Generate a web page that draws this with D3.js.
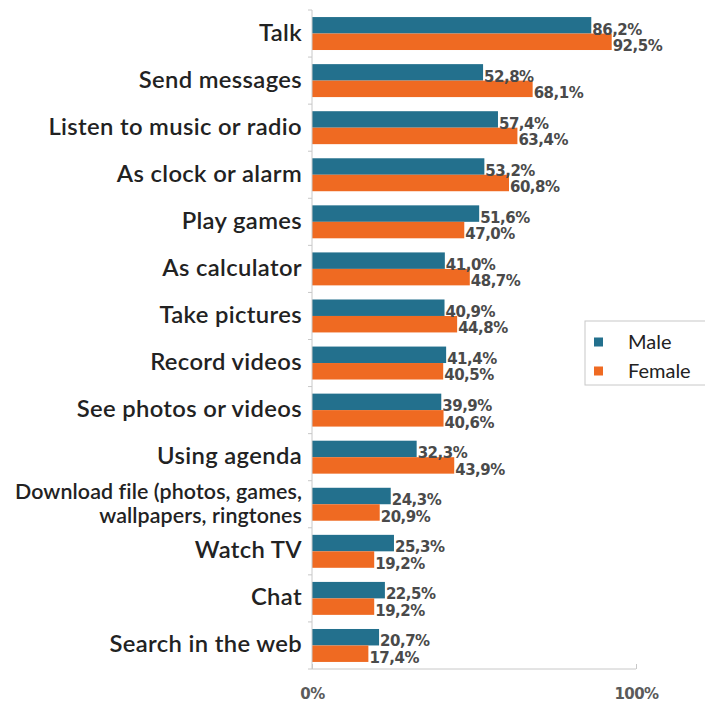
<!DOCTYPE html>
<html>
<head>
<meta charset="utf-8">
<script src="https://cdn.jsdelivr.net/npm/d3@7"></script>
<style>
  html, body { margin: 0; padding: 0; background: #ffffff; }
  svg { display: block; }
</style>
</head>
<body>
<svg id="chart" width="705" height="702"></svg>
<script>
// Mobile phone uses by gender (share of respondents, %)
const categories = [
  ["Talk"],
  ["Send messages"],
  ["Listen to music or radio"],
  ["As clock or alarm"],
  ["Play games"],
  ["As calculator"],
  ["Take pictures"],
  ["Record videos"],
  ["See photos or videos"],
  ["Using agenda"],
  ["Download file (photos, games,", "wallpapers, ringtones"],
  ["Watch TV"],
  ["Chat"],
  ["Search in the web"]
];
const maleValues   = [86.2, 52.8, 57.4, 53.2, 51.6, 41.0, 40.9, 41.4, 39.9, 32.3, 24.3, 25.3, 22.5, 20.7];
const femaleValues = [92.5, 68.1, 63.4, 60.8, 47.0, 48.7, 44.8, 40.5, 40.6, 43.9, 20.9, 19.2, 19.2, 17.4];
const seriesNames  = ["Male", "Female"];
const xTicks       = [0, 100];

const colors = { Male: "#23708d", Female: "#ef6a22" };
const fmt = v => v.toFixed(1).replace(".", ",") + "%";

const catFont = "Lato, 'Open Sans', sans-serif";
const numFont = "'DejaVu Sans', Verdana, sans-serif";

const svg = d3.select("#chart");
const plotL = 312, plotR = 636, plotT = 10, plotB = 669;

const x = d3.scaleLinear().domain([0, 100]).range([plotL, plotR]);
const y = d3.scaleBand().domain(d3.range(categories.length)).range([plotT, plotB]).paddingInner(0.3).paddingOuter(0.15);
const ySub = d3.scaleBand().domain(seriesNames).range([0, y.bandwidth()]);

const rows = categories.map((c, i) => ({ i, label: c, Male: maleValues[i], Female: femaleValues[i] }));

// bars
const g = svg.append("g");
const row = g.selectAll("g.row").data(rows).join("g")
  .attr("class", "row")
  .attr("transform", d => `translate(0,${y(d.i)})`);

row.selectAll("rect").data(d => seriesNames.map(s => ({ s, v: d[s] }))).join("rect")
  .attr("x", x(0))
  .attr("y", d => ySub(d.s))
  .attr("width", d => x(d.v) - x(0))
  .attr("height", ySub.bandwidth())
  .attr("fill", d => colors[d.s]);

// value labels, baseline sitting at the bottom edge of each bar
row.selectAll("text.val").data(d => seriesNames.map(s => ({ s, v: d[s] }))).join("text")
  .attr("class", "val")
  .attr("x", d => x(d.v) + 1)
  .attr("y", d => ySub(d.s) + ySub.bandwidth() + 1)
  .attr("font-family", numFont)
  .attr("font-size", 15)
  .attr("font-weight", "bold")
  .attr("fill", "#4a4a4a")
  .attr("letter-spacing", -0.5)
  .text(d => fmt(d.v));

// vertical category axis with ticks between categories
const axisColor = "#c8c8c8";
svg.append("line")
  .attr("x1", plotL).attr("x2", plotL)
  .attr("y1", plotT).attr("y2", plotB)
  .attr("stroke", axisColor).attr("stroke-width", 1);
svg.selectAll("line.ytick").data(d3.range(categories.length + 1)).join("line")
  .attr("class", "ytick")
  .attr("x1", plotL - 4).attr("x2", plotL)
  .attr("y1", d => plotT + d * (plotB - plotT) / categories.length)
  .attr("y2", d => plotT + d * (plotB - plotT) / categories.length)
  .attr("stroke", axisColor);

// category labels (two-line label set slightly smaller)
const catLabels = svg.selectAll("text.cat").data(rows).join("text")
  .attr("class", "cat")
  .attr("text-anchor", "end")
  .attr("font-family", catFont)
  .attr("font-weight", 600)
  .attr("fill", "#222")
  .attr("letter-spacing", d => d.label.length > 1 ? 0.1 : 0.35)
  .attr("font-size", d => d.label.length > 1 ? 21.4 : 23.8)
  .attr("transform", d => `translate(${plotL - 10},${y(d.i) + y.bandwidth() / 2})`);
catLabels.each(function (d) {
  const t = d3.select(this);
  const n = d.label.length;
  d.label.forEach((line, k) => {
    t.append("tspan")
      .attr("x", 0)
      .attr("y", (k - (n - 1) / 2) * 24 + 7)
      .text(line);
  });
});

// horizontal value axis
const xAxis = d3.axisBottom(x).tickValues(xTicks).tickFormat(d => d + "%").tickSize(5);
const xa = svg.append("g").attr("transform", `translate(0,${plotB})`).call(xAxis);
xa.select(".domain").attr("stroke", axisColor).attr("d", `M${plotL},0H${plotR}`);
xa.selectAll(".tick line").attr("stroke", axisColor).attr("y1", -5).attr("y2", 0);
xa.selectAll(".tick text")
  .attr("font-family", numFont)
  .attr("font-size", 15)
  .attr("font-weight", "bold")
  .attr("fill", "#5a5a5a")
  .attr("letter-spacing", -0.6)
  .attr("y", 0)
  .attr("dy", 30);

// legend
const legend = svg.append("g").attr("transform", "translate(585,321)");
legend.append("rect")
  .attr("width", 125).attr("height", 64)
  .attr("fill", "#fff").attr("stroke", "#c8c8c8");
seriesNames.forEach((s, k) => {
  const cy = 21 + k * 29;
  legend.append("rect")
    .attr("x", 9).attr("y", cy - 4.5).attr("width", 9).attr("height", 9)
    .attr("fill", colors[s]);
  legend.append("text")
    .attr("x", 43).attr("y", cy + 7)
    .attr("font-family", catFont)
    .attr("font-size", 20)
    .attr("fill", "#222")
    .text(s);
});
</script>
</body>
</html>
